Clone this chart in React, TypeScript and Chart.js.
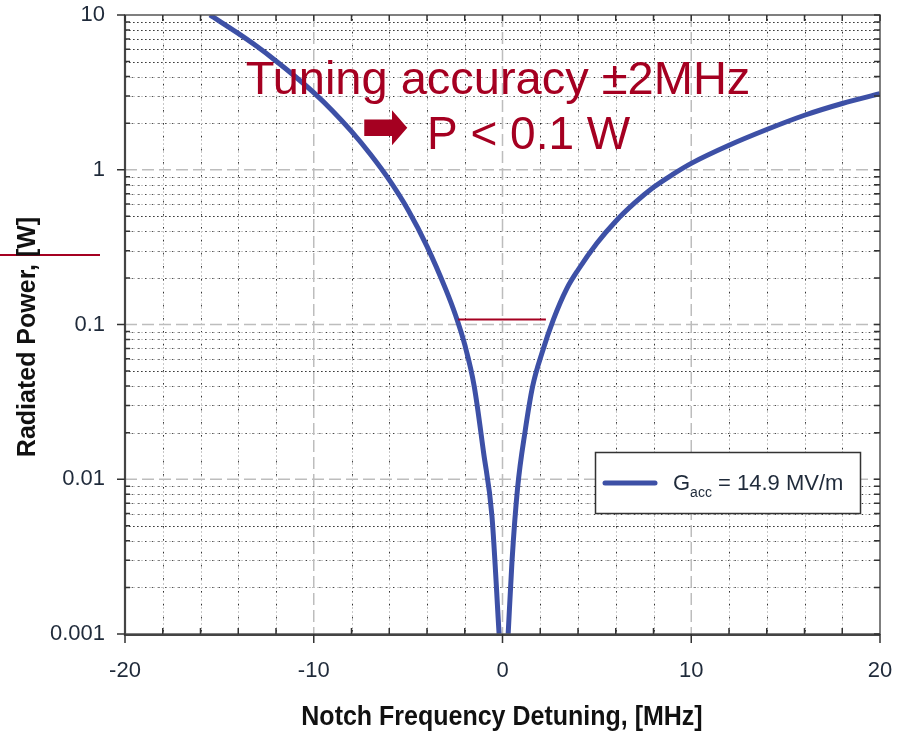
import React, { useEffect, useRef } from "react";
import { Chart, registerables } from "chart.js";
Chart.register(...registerables);

// ---- data ----
const leftDetuning = [-15.5, -14, -13, -12, -11, -10, -9, -8, -7, -6, -5, -4, -3, -2.5, -2, -1.5, -1, -0.56, -0.18];
const leftPower = [10, 7.6, 6.25, 5.05, 4.02, 3.15, 2.4, 1.77, 1.26, 0.86, 0.55, 0.32, 0.168, 0.116, 0.074, 0.04, 0.0148, 0.0058, 0.001];
const rightDetuning = [0.3, 0.5, 0.8, 1.2, 1.6, 2.1, 2.7, 3.4, 4, 5, 6, 7, 8, 9, 10, 12, 14, 16, 18, 20];
const rightPower = [0.001, 0.0029, 0.0088, 0.0205, 0.04, 0.066, 0.108, 0.17, 0.225, 0.335, 0.465, 0.61, 0.77, 0.93, 1.1, 1.44, 1.82, 2.25, 2.68, 3.1];

const xTickValues = [-20, -10, 0, 10, 20];
const xTickLabels = ["-20", "-10", "0", "10", "20"];
const yTickValues = [0.001, 0.01, 0.1, 1, 10];
const yTickLabels = ["0.001", "0.01", "0.1", "1", "10"];
const xMinorValues = [-18, -16, -14, -12, -8, -6, -4, -2, 2, 4, 6, 8, 12, 14, 16, 18];
const yMinorMultipliers = [2, 3, 4, 5, 6, 7, 8, 9];

const seriesLabel = "Gacc = 14.9 MV/m";
const xTitle = "Notch Frequency Detuning, [MHz]";
const yTitle = "Radiated Power, [W]";
const noteLine1 = "Tuning accuracy ±2MHz";
const noteArrow = "➡";
const noteLine2 = "P < 0.1 W";
const markerLevel = 0.1;
const markerFrom = -2.35;
const markerTo = 2.3;

const BLUE = "#3d50a6";
const RED = "#a50021";

const gridPlugin = {
  id: "customGrid",
  beforeDatasetsDraw(chart: any) {
    const { ctx, chartArea: a, scales } = chart;
    const xs = scales.x, ys = scales.y;
    ctx.save();
    // minor vertical
    xMinorValues.forEach((v) => {
      const px = Math.round(xs.getPixelForValue(v)) + 0.5;
      ctx.lineWidth = 1;
      ctx.strokeStyle = "#c8c8c8";
      ctx.setLineDash([2, 2]);
      ctx.beginPath(); ctx.moveTo(px, a.top); ctx.lineTo(px, a.bottom); ctx.stroke();
      ctx.strokeStyle = "rgba(0,0,0,0.75)";
      ctx.setLineDash([1.5, 11.5]);
      ctx.beginPath(); ctx.moveTo(px, a.top + 4); ctx.lineTo(px, a.bottom); ctx.stroke();
    });
    // minor horizontal
    for (let k = -3; k <= 0; k++) {
      yMinorMultipliers.forEach((m) => {
        const v = m * Math.pow(10, k);
        const py = Math.round(ys.getPixelForValue(v)) + 0.5;
        ctx.lineWidth = 1;
        ctx.strokeStyle = "#c8c8c8";
        ctx.setLineDash([2, 2]);
        ctx.beginPath(); ctx.moveTo(a.left, py); ctx.lineTo(a.right, py); ctx.stroke();
        ctx.strokeStyle = "rgba(0,0,0,0.7)";
        ctx.setLineDash(m === 5 || (k === 0 && m >= 6) ? [1.5, 2.5] : [1.2, 5.5]);
        ctx.beginPath(); ctx.moveTo(a.left, py); ctx.lineTo(a.right, py); ctx.stroke();
      });
    }
    // major
    ctx.strokeStyle = "#bdbdbd";
    ctx.lineWidth = 1.5;
    ctx.setLineDash([12, 5]);
    [-10, 0, 10].forEach((v) => {
      const px = xs.getPixelForValue(v);
      ctx.beginPath(); ctx.moveTo(px, a.top); ctx.lineTo(px, a.bottom); ctx.stroke();
    });
    [0.01, 0.1, 1].forEach((v) => {
      const py = ys.getPixelForValue(v);
      ctx.beginPath(); ctx.moveTo(a.left, py); ctx.lineTo(a.right, py); ctx.stroke();
    });
    ctx.restore();
  },
  afterDraw(chart: any) {
    const { ctx, chartArea: a, scales } = chart;
    const xs = scales.x, ys = scales.y;
    ctx.save();
    ctx.setLineDash([]);
    // frame
    ctx.strokeStyle = "#555";
    ctx.lineWidth = 1.5;
    ctx.strokeRect(a.left, a.top, a.right - a.left, a.bottom - a.top);
    ctx.strokeStyle = "#444";
    ctx.lineWidth = 2.2;
    ctx.beginPath();
    ctx.moveTo(a.left, a.top); ctx.lineTo(a.left, a.bottom + 1); ctx.lineTo(a.right, a.bottom + 1);
    ctx.stroke();
    // ticks
    ctx.strokeStyle = "#333";
    ctx.lineWidth = 1.5;
    ctx.beginPath();
    xTickValues.forEach((v) => {
      const px = xs.getPixelForValue(v);
      ctx.moveTo(px, a.bottom); ctx.lineTo(px, a.bottom + 9);
      ctx.moveTo(px, a.top); ctx.lineTo(px, a.top + 6);
    });
    xMinorValues.forEach((v) => {
      const px = xs.getPixelForValue(v);
      ctx.moveTo(px, a.bottom); ctx.lineTo(px, a.bottom - 6);
      ctx.moveTo(px, a.top); ctx.lineTo(px, a.top + 6);
    });
    yTickValues.forEach((v) => {
      const py = ys.getPixelForValue(v);
      ctx.moveTo(a.left - 8, py); ctx.lineTo(a.left, py);
      ctx.moveTo(a.right, py); ctx.lineTo(a.right - 6, py);
    });
    for (let k = -3; k <= 0; k++) {
      yMinorMultipliers.forEach((m) => {
        const py = ys.getPixelForValue(m * Math.pow(10, k));
        ctx.moveTo(a.left, py); ctx.lineTo(a.left + 5, py);
        ctx.moveTo(a.right, py); ctx.lineTo(a.right - 6, py);
      });
    }
    ctx.stroke();

    // annotation marker line at P = 0.1
    ctx.strokeStyle = RED;
    ctx.lineWidth = 2.2;
    const my = ys.getPixelForValue(markerLevel) - 5;
    ctx.beginPath();
    ctx.moveTo(xs.getPixelForValue(markerFrom), my);
    ctx.lineTo(xs.getPixelForValue(markerTo), my);
    ctx.stroke();
    ctx.beginPath();
    ctx.moveTo(0, 255); ctx.lineTo(100, 255);
    ctx.stroke();

    // annotation text
    ctx.fillStyle = RED;
    ctx.textBaseline = "alphabetic";
    ctx.textAlign = "center";
    ctx.font = '47px "Liberation Sans", Arial, sans-serif';
    ctx.fillText(noteLine1, 498, 94);
    ctx.textAlign = "left";
    ctx.save();
    ctx.translate(361, 131);
    ctx.scale(1.24, 1.42);
    ctx.textBaseline = "middle";
    ctx.font = 'bold 46px "DejaVu Sans", sans-serif';
    ctx.fillText(noteArrow, 0, 0);
    ctx.restore();
    ctx.textBaseline = "alphabetic";
    ctx.font = '46px "Liberation Sans", Arial, sans-serif';
    ctx.fillText(noteLine2, 427, 149);

    // legend
    ctx.fillStyle = "#fff";
    ctx.fillRect(595, 452, 265, 61);
    ctx.strokeStyle = "#333";
    ctx.lineWidth = 1.5;
    ctx.strokeRect(595.5, 452.5, 265, 61);
    ctx.strokeStyle = BLUE;
    ctx.lineWidth = 5;
    ctx.lineCap = "round";
    ctx.beginPath(); ctx.moveTo(605, 483); ctx.lineTo(655, 483); ctx.stroke();
    ctx.fillStyle = "#1f2a3a";
    ctx.font = '22px "Liberation Sans", Arial, sans-serif';
    const parts = seriesLabel.split(" ");
    const head = parts[0]; // "Gacc"
    const rest = " " + parts.slice(1).join(" ");
    let tx = 673;
    ctx.fillText(head.charAt(0), tx, 490);
    tx += ctx.measureText(head.charAt(0)).width;
    ctx.font = '14px "Liberation Sans", Arial, sans-serif';
    ctx.fillText(head.slice(1), tx, 497);
    tx += ctx.measureText(head.slice(1)).width;
    ctx.font = '22px "Liberation Sans", Arial, sans-serif';
    ctx.fillText(rest, tx, 490);

    // axis titles
    ctx.fillStyle = "#111";
    ctx.textAlign = "center";
    ctx.font = 'bold 25px "Liberation Sans", Arial, sans-serif';
    ctx.save();
    ctx.translate(502, 725);
    ctx.scale(1, 1.12);
    ctx.fillText(xTitle, 0, 0);
    ctx.restore();
    ctx.save();
    ctx.translate(35, 337);
    ctx.rotate(-Math.PI / 2);
    ctx.font = 'bold 25px "Liberation Sans", Arial, sans-serif';
    ctx.fillText(yTitle, 0, 0);
    ctx.restore();
    ctx.restore();
  },
};

const zeroPad = (s: any) => {
  s.paddingTop = 0;
  s.paddingBottom = 0;
  s.paddingLeft = 0;
  s.paddingRight = 0;
};

export default function App() {
  const ref = useRef<HTMLCanvasElement | null>(null);
  useEffect(() => {
    if (!ref.current) return;
    const chart = new Chart(ref.current, {
      type: "line",
      data: {
        datasets: [
          {
            label: seriesLabel,
            data: leftDetuning.map((x, i) => ({ x, y: leftPower[i] })),
            borderColor: BLUE,
            borderWidth: 5,
            pointRadius: 0,
            cubicInterpolationMode: "monotone",
            fill: false,
          },
          {
            label: seriesLabel,
            data: rightDetuning.map((x, i) => ({ x, y: rightPower[i] })),
            borderColor: BLUE,
            borderWidth: 5,
            pointRadius: 0,
            cubicInterpolationMode: "monotone",
            fill: false,
          },
        ],
      },
      options: {
        responsive: false,
        animation: false,
        devicePixelRatio: 1,
        layout: { padding: { left: 0, right: 22, top: 15, bottom: 0 } },
        plugins: { legend: { display: false }, tooltip: { enabled: false } },
        scales: {
          x: {
            type: "linear",
            min: -20,
            max: 20,
            afterFit: (s: any) => { s.height = 99; zeroPad(s); },
            afterBuildTicks: (s: any) => { s.ticks = xTickValues.map((v) => ({ value: v })); },
            ticks: {
              callback: (v: any) => xTickLabels[xTickValues.indexOf(Number(v))] ?? "",
              color: "#1f2a3a",
              font: { family: '"Liberation Sans", Arial, sans-serif', size: 22 },
              padding: 24,
              maxRotation: 0,
              autoSkip: false,
            },
            grid: { display: false, drawTicks: false },
            border: { display: false },
          },
          y: {
            type: "logarithmic",
            min: 0.001,
            max: 10,
            afterFit: (s: any) => { s.width = 125; zeroPad(s); },
            afterBuildTicks: (s: any) => { s.ticks = yTickValues.map((v) => ({ value: v })); },
            ticks: {
              callback: (v: any) => {
                const i = yTickValues.findIndex((t) => Math.abs(t - Number(v)) / t < 1e-6);
                return i >= 0 ? yTickLabels[i] : "";
              },
              color: "#1f2a3a",
              font: { family: '"Liberation Sans", Arial, sans-serif', size: 22 },
              padding: 20,
              autoSkip: false,
            },
            grid: { display: false, drawTicks: false },
            border: { display: false },
          },
        },
      },
      plugins: [gridPlugin],
    } as any);
    return () => chart.destroy();
  }, []);
  return (
    <div style={{ position: "absolute", left: 0, top: 0, width: 902, height: 733, background: "#fff" }}>
      <canvas ref={ref} width={902} height={733} style={{ display: "block" }} />
    </div>
  );
}
